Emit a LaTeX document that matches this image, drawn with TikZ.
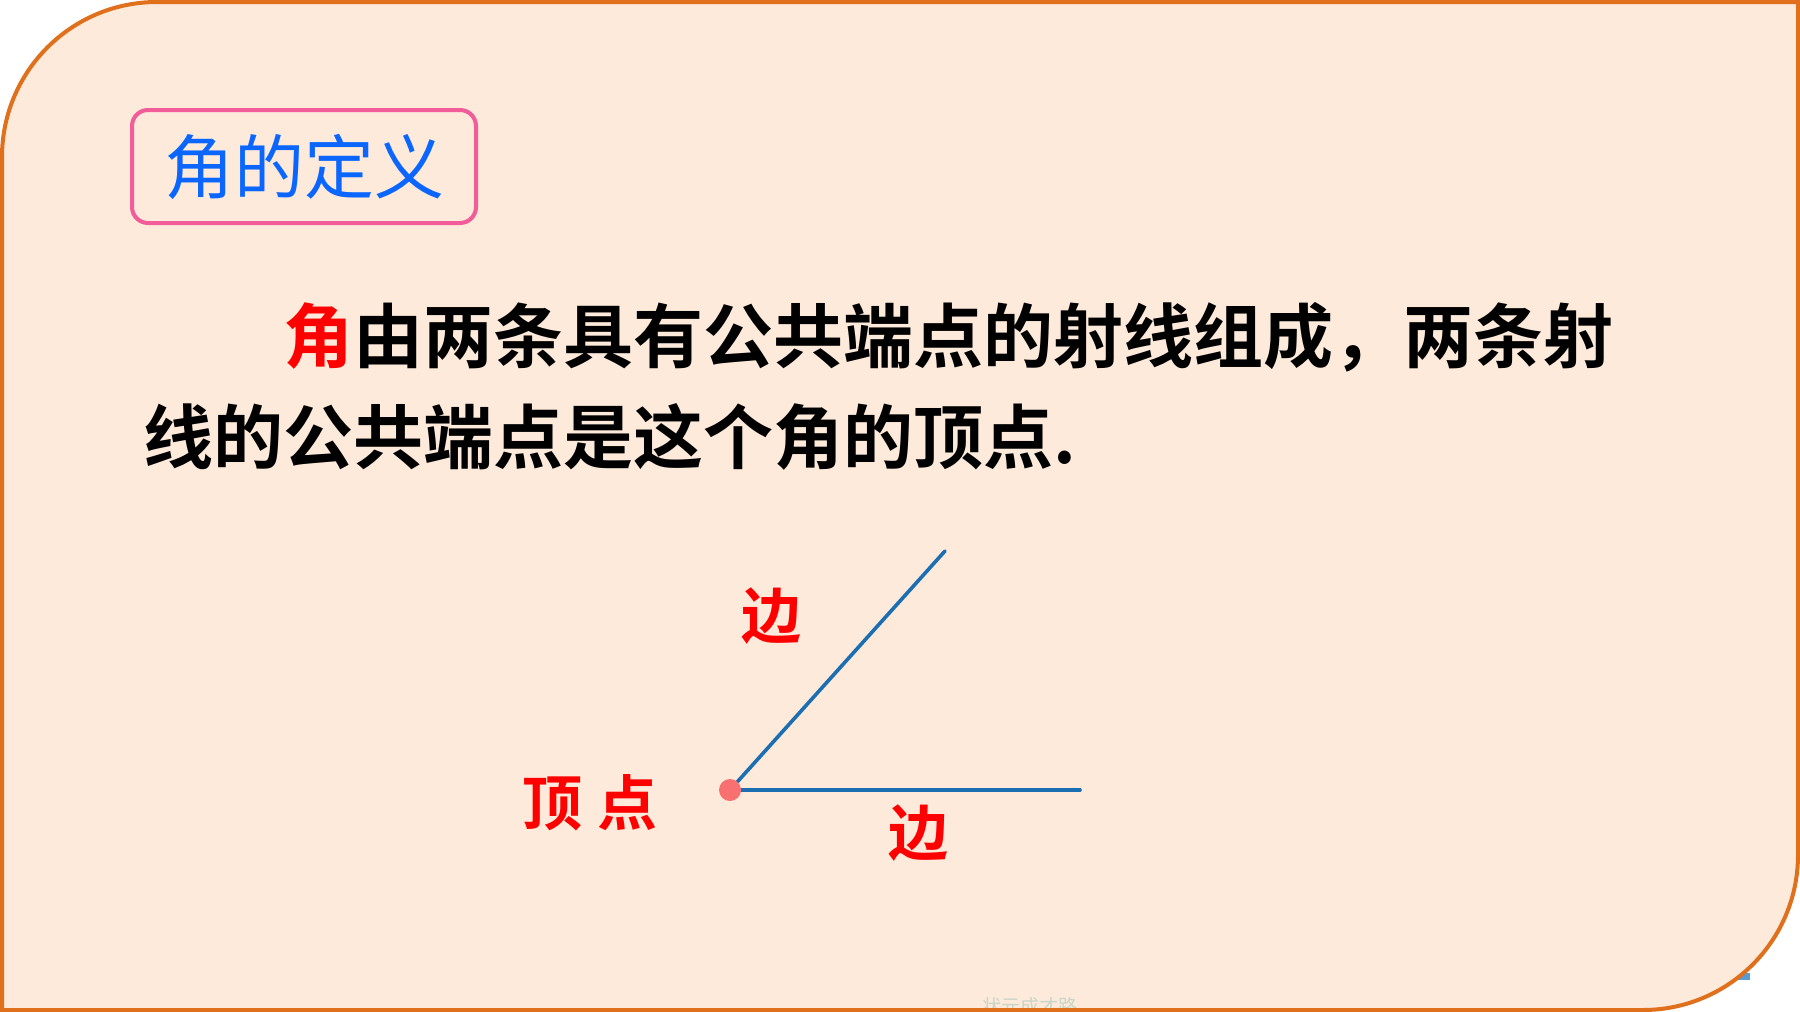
\documentclass[tikz,border=0pt]{standalone}
\usepackage{fontspec}
\newfontfamily\cjk{Noto Sans CJK SC}[BoldFont={Noto Sans CJK SC Bold}]
\definecolor{bgfill}{RGB}{253,234,219}
\definecolor{frameor}{RGB}{224,112,28}
\definecolor{titlepink}{RGB}{242,92,152}
\definecolor{titleblue}{RGB}{10,102,255}
\definecolor{rayblue}{RGB}{28,110,178}
\definecolor{dotred}{RGB}{248,112,112}
\definecolor{wmark}{RGB}{200,214,200}
\definecolor{tinyblue}{RGB}{91,155,213}
\tikzset{
  bodytext/.style={inner sep=0pt, font=\cjk\bfseries\fontsize{35pt}{42pt}\selectfont, text=black},
  lbl/.style={inner sep=0pt, font=\cjk\bfseries\fontsize{30pt}{36pt}\selectfont, text=red},
  ray/.style={draw=rayblue, line width=1.8pt, line cap=round},
}
\begin{document}
\begin{tikzpicture}[x=0.5pt,y=-0.5pt]
\useasboundingbox (0,0) rectangle (1800,1012);
\fill[white] (0,0) rectangle (1800,1012);
% tiny blue mark
\fill[tinyblue] (1736,973) rectangle (1750,980);
% main card
\filldraw[fill=bgfill, draw=frameor, line width=2pt]
  (2,157) .. controls (2,71.4) and (71.4,2) .. (157,2)
  -- (1798,2) -- (1798,855)
  .. controls (1798,940.6) and (1728.6,1010) .. (1643,1010)
  -- (2,1010) -- cycle;
% watermark
\node[inner sep=0pt, text=wmark, font=\cjk\fontsize{9.5pt}{10pt}\selectfont] (wm) at (1030,1006) {状元成才路};
\draw[frameor, line width=2pt] (900,1010) -- (1150,1010);
% title
\node[draw=titlepink, line width=2pt, rounded corners=8pt, fill=bgfill,
      minimum width=172pt, minimum height=56.5pt, inner sep=0pt,
      text=titleblue, font=\cjk\fontsize{35pt}{42pt}\selectfont] (title) at (304,166.5) {角的定义};
% body text
\node[bodytext, anchor=base west] (line1) at (283,362) {\textcolor{red}{角}由两条具有公共端点的射线组成，两条射};
\node[bodytext, anchor=base west] (line2) at (143,463) {线的公共端点是这个角的顶点.};
% angle
\coordinate (V) at (730,790);
\coordinate (A) at (945,551);
\coordinate (B) at (1080,790);
\draw[ray] (V) -- (A);
\draw[ray] (V) -- (B);
\fill[dotred] (V) circle[radius=11];
\node[lbl] (side1) at (771,616) {边};
\node[lbl] (vertex) at (590,803) {顶\hspace{8pt}点};
\node[lbl] (side2) at (918,833) {边};
\end{tikzpicture}
\end{document}
